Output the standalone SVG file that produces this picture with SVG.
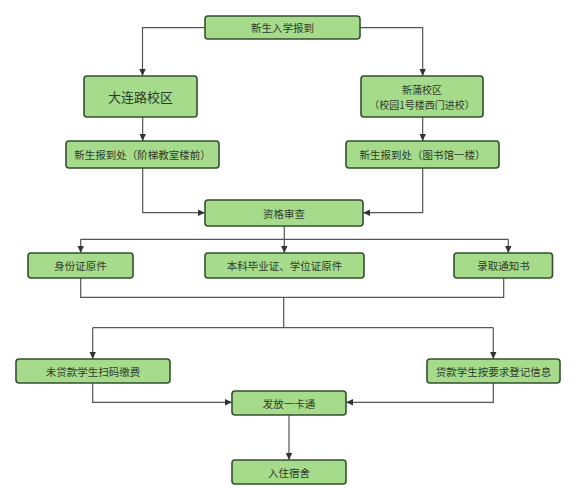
<svg xmlns="http://www.w3.org/2000/svg" width="576" height="500" viewBox="0 0 576 500">
<defs>
<marker id="ah" markerWidth="8" markerHeight="8" refX="7" refY="4" orient="auto" markerUnits="userSpaceOnUse">
<path d="M0,0.8 L7,4 L0,7.2 Z" fill="#333"/>
</marker>
<style>
.box{fill:#a6db8c;stroke:#35502f;stroke-width:1.6}
.t{font-family:"Noto Sans CJK SC","Noto Sans",sans-serif;font-size:10.5px;fill:#2e3a2a;text-anchor:middle;dominant-baseline:central}
.big{font-size:13px}
.sm{font-size:10px}
.c{fill:none;stroke:#555;stroke-width:1.2}
.a{marker-end:url(#ah)}
</style>
</defs>
<rect width="576" height="500" fill="#fff"/>
<g id="connectors">
<path class="c a" d="M205,27.7 H142.5 V76"/>
<path class="c a" d="M360,27.7 H422.7 V76"/>
<path class="c a" d="M142.7,117 V141"/>
<path class="c a" d="M422.7,117 V141"/>
<path class="c a" d="M142.7,168 V212.7 H205"/>
<path class="c a" d="M422.7,168 V212.7 H363"/>
<path class="c a" d="M284.3,226 V253"/>
<path class="c" d="M80.7,239.3 H508.3"/>
<path class="c a" d="M80.7,239.3 V253"/>
<path class="c a" d="M508.3,239.3 V253"/>
<path class="c" d="M80.7,278 V297.3 H503.7 V278"/>
<path class="c" d="M283.7,297.3 V327.7"/>
<path class="c" d="M92.7,327.7 H493.3"/>
<path class="c a" d="M92.7,327.7 V359"/>
<path class="c a" d="M493.3,327.7 V359"/>
<path class="c a" d="M92.7,383 V402.3 H232"/>
<path class="c a" d="M493.3,383 V402.3 H346"/>
<path class="c a" d="M289,415 V460"/>
</g>
<g id="n1"><rect class="box" x="205" y="16" width="155" height="23" rx="3"/><text class="t" x="282.5" y="27.5">新生入学报到</text></g>
<g id="n2"><rect class="box" x="84" y="76" width="113" height="41" rx="3"/><text class="t big" x="140.5" y="96.5">大连路校区</text></g>
<g id="n3"><rect class="box" x="361" y="76" width="122" height="41" rx="3"/><text class="t sm" x="422" y="89">新蒲校区</text><text class="t sm" x="422" y="104">（校园1号楼西门进校）</text></g>
<g id="n4"><rect class="box" x="66" y="141" width="153" height="27" rx="3"/><text class="t" x="142.5" y="154.5">新生报到处（阶梯教室楼前）</text></g>
<g id="n5"><rect class="box" x="346" y="141" width="153" height="27" rx="3"/><text class="t" x="422.5" y="154.5">新生报到处（图书馆一楼）</text></g>
<g id="n6"><rect class="box" x="205" y="200" width="158" height="26" rx="3"/><text class="t" x="284" y="213">资格审查</text></g>
<g id="n7"><rect class="box" x="28" y="253" width="105" height="25" rx="3"/><text class="t" x="80.5" y="265.5">身份证原件</text></g>
<g id="n8"><rect class="box" x="205" y="253" width="159" height="25" rx="3"/><text class="t" x="284.5" y="265.5">本科毕业证、学位证原件</text></g>
<g id="n9"><rect class="box" x="454" y="253" width="98.5" height="25" rx="3"/><text class="t" x="503.5" y="265.5">录取通知书</text></g>
<g id="n10"><rect class="box" x="16" y="359" width="154" height="24" rx="3"/><text class="t" x="93" y="371">未贷款学生扫码缴费</text></g>
<g id="n11"><rect class="box" x="427" y="359" width="133" height="24" rx="3"/><text class="t" x="493.5" y="371">贷款学生按要求登记信息</text></g>
<g id="n12"><rect class="box" x="232" y="391" width="114" height="24" rx="3"/><text class="t" x="289" y="403">发放一卡通</text></g>
<g id="n13"><rect class="box" x="232" y="460" width="114" height="24" rx="3"/><text class="t" x="289" y="472">入住宿舍</text></g>
</svg>
